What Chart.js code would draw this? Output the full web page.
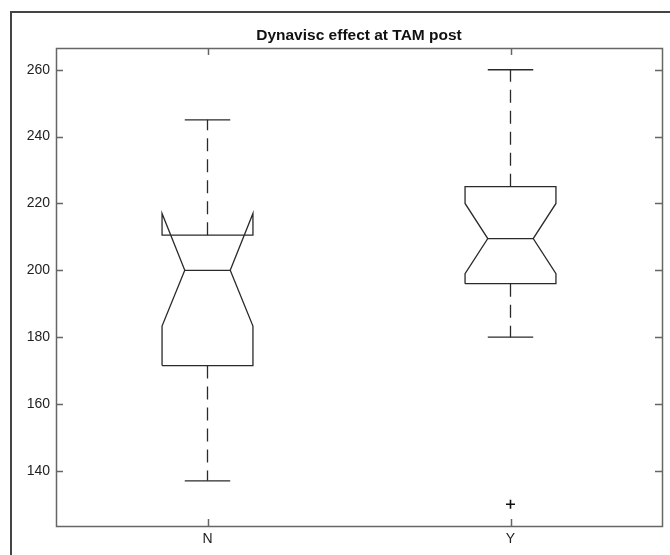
<!DOCTYPE html>
<html><head><meta charset="utf-8">
<script src="https://cdn.jsdelivr.net/npm/chart.js@4.4.0/dist/chart.umd.min.js"></script>
<style>html,body{margin:0;padding:0;background:#fff}#wrap{width:670px;height:555px}</style>
</head><body><div id="wrap"><canvas id="c" width="670" height="555"></canvas></div>
<script>
// ---- data ----
const categories = ['N', 'Y'];
const whiskerLow = [137, 180];
const q1 = [171.5, 196];
const notchLow = [183.3, 199];
const median = [200, 209.5];
const notchHigh = [217, 220];
const q3 = [210.5, 225];
const whiskerHigh = [245, 260];
const outliers = [[], [130]];
const yTicks = [140, 160, 180, 200, 220, 240, 260];
const yRange = [123.5, 266.5];
const titleText = 'Dynavisc effect at TAM post';

// ---- styling ----
const BOX_HALF = 0.15, NOTCH_HALF = 0.075;
const LINE = '#2a2a2a';
const AXIS = '#666';
const FONT = "'Liberation Sans', Arial, Helvetica, sans-serif";

const datasets = [];
categories.forEach((cat, i) => {
  const c = i + 1;
  const line = (data, extra) => Object.assign({
    data, showLine: true, borderColor: LINE, borderWidth: 1.3,
    pointRadius: 0, fill: false, tension: 0
  }, extra || {});
  // notched box outline
  datasets.push(line([
    {x: c - BOX_HALF, y: q1[i]}, {x: c - BOX_HALF, y: notchLow[i]},
    {x: c - NOTCH_HALF, y: median[i]}, {x: c - BOX_HALF, y: notchHigh[i]},
    {x: c - BOX_HALF, y: q3[i]}, {x: c + BOX_HALF, y: q3[i]},
    {x: c + BOX_HALF, y: notchHigh[i]}, {x: c + NOTCH_HALF, y: median[i]},
    {x: c + BOX_HALF, y: notchLow[i]}, {x: c + BOX_HALF, y: q1[i]},
    {x: c - BOX_HALF, y: q1[i]}
  ]));
  // median
  datasets.push(line([{x: c - NOTCH_HALF, y: median[i]}, {x: c + NOTCH_HALF, y: median[i]}]));
  // whiskers (dashed)
  datasets.push(line([{x: c, y: q3[i]}, {x: c, y: whiskerHigh[i]}], {borderDash: [13, 8]}));
  datasets.push(line([{x: c, y: q1[i]}, {x: c, y: whiskerLow[i]}], {borderDash: [13, 8]}));
  // caps
  datasets.push(line([{x: c - NOTCH_HALF, y: whiskerHigh[i]}, {x: c + NOTCH_HALF, y: whiskerHigh[i]}]));
  datasets.push(line([{x: c - NOTCH_HALF, y: whiskerLow[i]}, {x: c + NOTCH_HALF, y: whiskerLow[i]}]));
  // outliers
  if (outliers[i].length) {
    datasets.push({
      data: outliers[i].map(v => ({x: c, y: v})), showLine: false,
      pointStyle: 'cross', pointRadius: 4.5, borderWidth: 1.6,
      borderColor: '#111', backgroundColor: '#111'
    });
  }
});

const framePlugin = {
  id: 'frame',
  afterLayout(chart) {
    // centre the title over the plot area, as in the reference
    const t = chart.titleBlock, a = chart.chartArea;
    if (t) { t.left = a.left; t.right = a.right; t.width = a.right - a.left; }
  },
  beforeDraw(chart) {
    const ctx = chart.ctx;
    ctx.save();
    ctx.fillStyle = '#fff';
    ctx.fillRect(0, 0, chart.width, chart.height);
    ctx.strokeStyle = '#444';
    ctx.lineWidth = 2;
    ctx.strokeRect(11, 12, 800, 800);
    ctx.restore();
  },
  afterDatasetsDraw(chart) {
    const {ctx, chartArea: a, scales} = chart;
    ctx.save();
    ctx.strokeStyle = AXIS;
    ctx.lineWidth = 1.5;
    ctx.strokeRect(a.left + 0.5, a.top + 0.5, a.right - a.left, a.bottom - a.top);
    ctx.beginPath();
    const TL = 7;
    scales.y.ticks.forEach(t => {
      const y = Math.round(scales.y.getPixelForValue(t.value)) + 0.5;
      ctx.moveTo(a.left, y); ctx.lineTo(a.left + TL, y);
      ctx.moveTo(a.right, y); ctx.lineTo(a.right - TL, y);
    });
    scales.x.ticks.forEach(t => {
      const x = Math.round(scales.x.getPixelForValue(t.value)) + 0.5;
      ctx.moveTo(x, a.bottom); ctx.lineTo(x, a.bottom - TL);
      ctx.moveTo(x, a.top); ctx.lineTo(x, a.top + TL);
    });
    ctx.stroke();
    ctx.restore();
  }
};

new Chart(document.getElementById('c'), {
  type: 'scatter',
  data: {datasets},
  options: {
    responsive: false, animation: false,
    layout: {padding: {top: 0, right: 8, left: 0, bottom: 0}},
    plugins: {
      legend: {display: false}, tooltip: {enabled: false},
      title: {display: true, text: titleText, color: '#111',
        font: {family: FONT, size: 15.5, weight: 'bold'},
        padding: {top: 26, bottom: 3.4}}
    },
    scales: {
      x: {
        type: 'linear', min: 0.5, max: 2.5,
        afterBuildTicks: s => { s.ticks = categories.map((_, i) => ({value: i + 1})); },
        afterFit: s => { s.height = 29; },
        grid: {display: false, drawTicks: false}, border: {display: false},
        ticks: {callback: v => categories[v - 1], color: '#222', padding: 5,
          font: {family: FONT, size: 14}, maxRotation: 0}
      },
      y: {
        type: 'linear', min: yRange[0], max: yRange[1],
        afterBuildTicks: s => { s.ticks = yTicks.map(v => ({value: v})); },
        afterFit: s => { s.width = 56; },
        grid: {display: false, drawTicks: false}, border: {display: false},
        ticks: {color: '#222', padding: 6, font: {family: FONT, size: 14}}
      }
    }
  },
  plugins: [framePlugin]
});
</script></body></html>
